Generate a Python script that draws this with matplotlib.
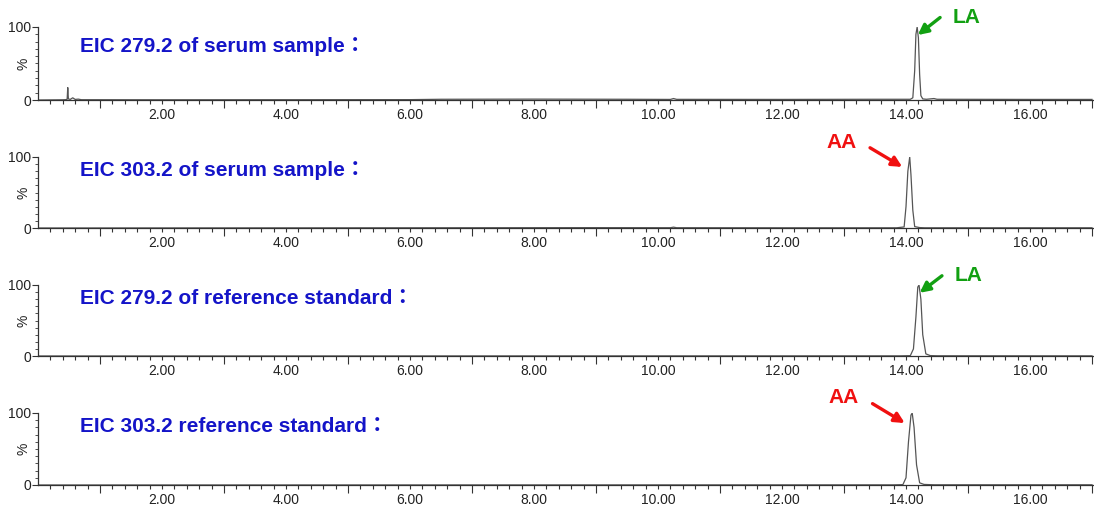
import matplotlib
matplotlib.use("Agg")
import matplotlib.pyplot as plt
from matplotlib.ticker import FixedLocator, FuncFormatter

plt.rcParams['font.family'] = ['Liberation Sans', 'Noto Sans CJK JP', 'DejaVu Sans']

# retention time (min) and relative intensity (%) for each trace
rt_1 = [0.0, 0.40, 0.45, 0.47, 0.48, 0.49, 0.52, 0.56, 0.60, 0.65, 0.70, 2.0, 6.0, 6.5, 8.0, 9.5,
        10.2, 10.25, 10.3, 12.0, 13.5, 14.07, 14.11, 14.14, 14.16, 14.18, 14.20, 14.22, 14.24,
        14.27, 14.33, 14.45, 14.5, 16.0, 17.0]
int_1 = [0.0, 0.3, 0.5, 1.0, 17.0, 1.5, 0.8, 3.0, 0.8, 1.2, 0.4, 0.3, 0.5, 1.0, 1.2, 1.0,
         0.8, 2.0, 0.9, 0.8, 1.0, 1.0, 3.0, 40.0, 90.0, 100.0, 85.0, 35.0, 6.0,
         1.5, 1.0, 2.0, 1.0, 0.8, 0.8]

rt_2 = [0.0, 6.0, 9.0, 10.2, 10.25, 10.3, 12.0, 13.85, 13.97, 14.00, 14.03, 14.06, 14.08,
        14.11, 14.14, 14.22, 14.3, 17.0]
int_2 = [0.0, 0.3, 0.5, 0.4, 1.2, 0.4, 0.3, 0.3, 1.5, 30.0, 80.0, 100.0, 75.0,
         25.0, 2.0, 0.6, 0.3, 0.3]

rt_3 = [0.0, 13.9, 14.07, 14.12, 14.16, 14.19, 14.21, 14.24, 14.27, 14.32, 14.39, 14.5, 17.0]
int_3 = [0.0, 0.2, 0.5, 10.0, 55.0, 97.0, 100.0, 80.0, 30.0, 3.0, 0.6, 0.3, 0.2]

rt_4 = [0.0, 13.8, 13.95, 14.00, 14.04, 14.08, 14.10, 14.13, 14.17, 14.22, 14.29, 14.45, 17.0]
int_4 = [0.0, 0.2, 0.5, 10.0, 60.0, 97.0, 100.0, 80.0, 28.0, 3.0, 0.8, 0.3, 0.3]

rts = [rt_1, rt_2, rt_3, rt_4]
ints = [int_1, int_2, int_3, int_4]
titles = ["EIC 279.2 of serum sample：", "EIC 303.2 of serum sample：",
          "EIC 279.2 of reference standard：", "EIC 303.2 reference standard："]
peak_names = ["LA", "AA", "LA", "AA"]
peak_rt = [14.18, 14.06, 14.21, 14.10]
x_labels = {2: "2.00", 4: "4.00", 6: "6.00", 8: "8.00", 10: "10.00",
            12: "12.00", 14: "14.00", 16: "16.00"}

W, H = 1094, 513
fig = plt.figure(figsize=(W / 100, H / 100), dpi=100)

# pixel boxes of the four panels: (top of 100%, y of 0%), and title centre y
boxes = [(27, 100), (157, 228), (285, 356), (413, 485)]
title_y = [46, 170, 299, 427]
left_px, right_px = 38, 1094
x_max = (right_px - left_px) / 62.0

odd_ticks = [1, 3, 5, 7, 9, 11, 13, 15, 17]
small_ticks = [k / 5 for k in range(1, 86) if k % 5 != 0 or (k // 5) % 2 == 0]


def lab(v, pos):
    r = round(v)
    if abs(v - r) < 1e-6 and r in x_labels:
        return x_labels[r]
    return ""


for i, (top, bot) in enumerate(boxes):
    ax = fig.add_axes([left_px / W, 1 - bot / H, (right_px - left_px) / W, (bot - top) / H])
    ax.plot(rts[i], ints[i], color='#555555', lw=0.9)
    ax.set_xlim(0, x_max)
    ax.set_ylim(0, 100)
    for s in ['top', 'right']:
        ax.spines[s].set_visible(False)
    for s in ['left', 'bottom']:
        ax.spines[s].set_color('#333333')
        ax.spines[s].set_linewidth(0.9)
    # long ticks at odd minutes, short ones every 0.2 min, labels at even minutes
    ax.xaxis.set_major_locator(FixedLocator(odd_ticks))
    ax.xaxis.set_major_formatter(FuncFormatter(lambda v, p: ""))
    ax.xaxis.set_minor_locator(FixedLocator(small_ticks))
    ax.xaxis.set_minor_formatter(FuncFormatter(lab))
    ax.tick_params(axis='x', which='major', length=6, width=0.8, color='#333333')
    ax.tick_params(axis='x', which='minor', length=3, width=0.8, color='#333333',
                   labelsize=10, labelcolor='#222222', pad=3)
    ax.set_yticks([0, 100])
    ax.set_yticklabels(["0", "100"], fontsize=10, color='#222222')
    ax.yaxis.set_minor_locator(FixedLocator([10, 20, 30, 40, 50, 60, 70, 80, 90]))
    ax.tick_params(axis='y', which='major', length=4, width=0.8, color='#333333', pad=1)
    ax.tick_params(axis='y', which='minor', length=2, width=0.6, color='#333333')
    ax.set_ylabel("%", fontsize=10, color='#222222', labelpad=2)
    ax.yaxis.set_label_coords(-0.007, 0.5)

    fig.text(80 / W, 1 - title_y[i] / H, titles[i],
             fontsize=15, fontweight='bold', color='#1414C8', va='center', ha='left')

    if peak_names[i] == "LA":
        ax.annotate("", xy=(peak_rt[i] + 0.01, 89), xytext=(peak_rt[i] + 0.37, 113),
                    arrowprops=dict(arrowstyle='-|>', color='#12A012', lw=2.4,
                                    mutation_scale=15, shrinkA=0, shrinkB=0),
                    annotation_clip=False)
        ax.text(peak_rt[i] + 0.57, 113, "LA", fontsize=15, fontweight='bold',
                color='#12A012', ha='left', va='center', clip_on=False)
    else:
        ax.annotate("", xy=(peak_rt[i] - 0.12, 86), xytext=(peak_rt[i] - 0.64, 113),
                    arrowprops=dict(arrowstyle='-|>', color='#F01010', lw=2.4,
                                    mutation_scale=15, shrinkA=0, shrinkB=0),
                    annotation_clip=False)
        ax.text(peak_rt[i] - 1.35, 121, "AA", fontsize=15, fontweight='bold',
                color='#F01010', ha='left', va='center', clip_on=False)

plt.savefig("out.png", dpi=100)
